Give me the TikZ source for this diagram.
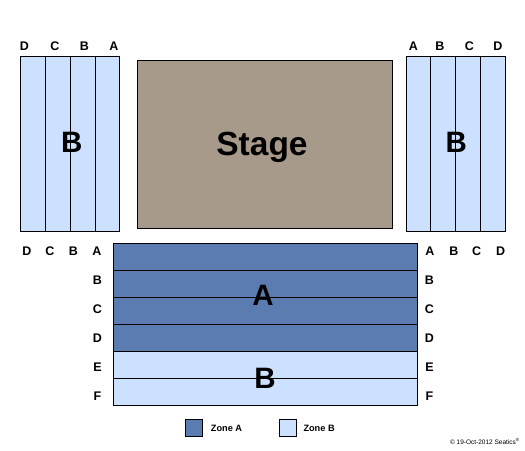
\documentclass[tikz,border=0pt]{standalone}
\usepackage{fontspec}
\setmainfont{Liberation Sans}
\definecolor{zoneB}{RGB}{204,224,255}
\definecolor{zoneA}{RGB}{91,124,177}
\definecolor{stagec}{RGB}{168,154,138}
\begin{document}
\begin{tikzpicture}[x=1pt,y=-1pt,
  seat/.style={draw=black,line width=0.9pt},
  lbl/.style={font=\fontsize{12.5}{13}\selectfont\bfseries,inner sep=0pt,anchor=base},
  big/.style={font=\fontsize{29.5}{32}\selectfont\bfseries,inner sep=0pt,anchor=base},
  leg/.style={font=\fontsize{9.2}{10}\selectfont\bfseries,inner sep=0pt,anchor=west}]
\useasboundingbox[fill=white] (0,0) rectangle (525,450);
% left block
\fill[zoneB] (20,56) rectangle (119.7,231);
\foreach \x in {45.3,70.3,95.7} \draw[seat] (\x,56) -- (\x,231);
\draw[seat] (20,56) rectangle (119.7,231);
% right block
\fill[zoneB] (406.3,56) rectangle (505.3,231);
\foreach \x in {430.3,455.7,480.3} \draw[seat] (\x,56) -- (\x,231);
\draw[seat] (406.3,56) rectangle (505.3,231);
% stage
\draw[seat,fill=stagec] (137.3,60) rectangle (392.3,228);
\node[big,font=\fontsize{33.5}{35}\selectfont\bfseries] (stage) at (262,155.5) {Stage};
% main block rows
\foreach \i/\c in {0/zoneA,1/zoneA,2/zoneA,3/zoneA,4/zoneB,5/zoneB}
  \draw[seat,fill=\c] (113.7,243.5+27*\i) rectangle (417,270.5+27*\i);
\node[big] (bl) at (71.7,152.7) {B};
\node[big] (br) at (456.3,152) {B};
\node[big] (ma) at (263,305.7) {A};
\node[big] (mb) at (265,388.3) {B};
% top labels
\node[lbl] (tl1) at (24.5,50.7) {D};
\node[lbl] (tl2) at (55,50.7) {C};
\node[lbl] (tl3) at (84.5,50.7) {B};
\node[lbl] (tl4) at (114,50.7) {A};
\node[lbl] (tr1) at (413.3,50.7) {A};
\node[lbl] (tr2) at (440,50.7) {B};
\node[lbl] (tr3) at (469.3,50.7) {C};
\node[lbl] (tr4) at (498,50.7) {D};
% lower labels
\node[lbl] (bl1) at (27,255) {D};
\node[lbl] (bl2) at (50,255) {C};
\node[lbl] (bl3) at (73.5,255) {B};
\node[lbl] (bl4) at (97,255) {A};
\node[lbl] (br1) at (430,255) {A};
\node[lbl] (br2) at (454,255) {B};
\node[lbl] (br3) at (476.7,255) {C};
\node[lbl] (br4) at (500.7,255) {D};
\foreach \n/\y/\t in {b/284/B,c/313.3/C,d/342.7/D,e/371.7/E,f/400.7/F}{
  \node[lbl] (rl\n) at (97.5,\y) {\t};
  \node[lbl] (rr\n) at (429.5,\y) {\t};
}
% legend
\draw[seat,fill=zoneA] (185,419) rectangle (202.3,436.3);
\node[leg] (la) at (210.7,428) {Zone A};
\draw[seat,fill=zoneB] (279.3,419) rectangle (296.7,436.3);
\node[leg] (lb) at (303.3,428) {Zone B};
\node[font=\fontsize{6.5}{7}\selectfont,inner sep=0pt,anchor=east] (copy) at (520,441.5) {© 19-Oct-2012 Seatics\textsuperscript{®}};
\end{tikzpicture}
\end{document}
